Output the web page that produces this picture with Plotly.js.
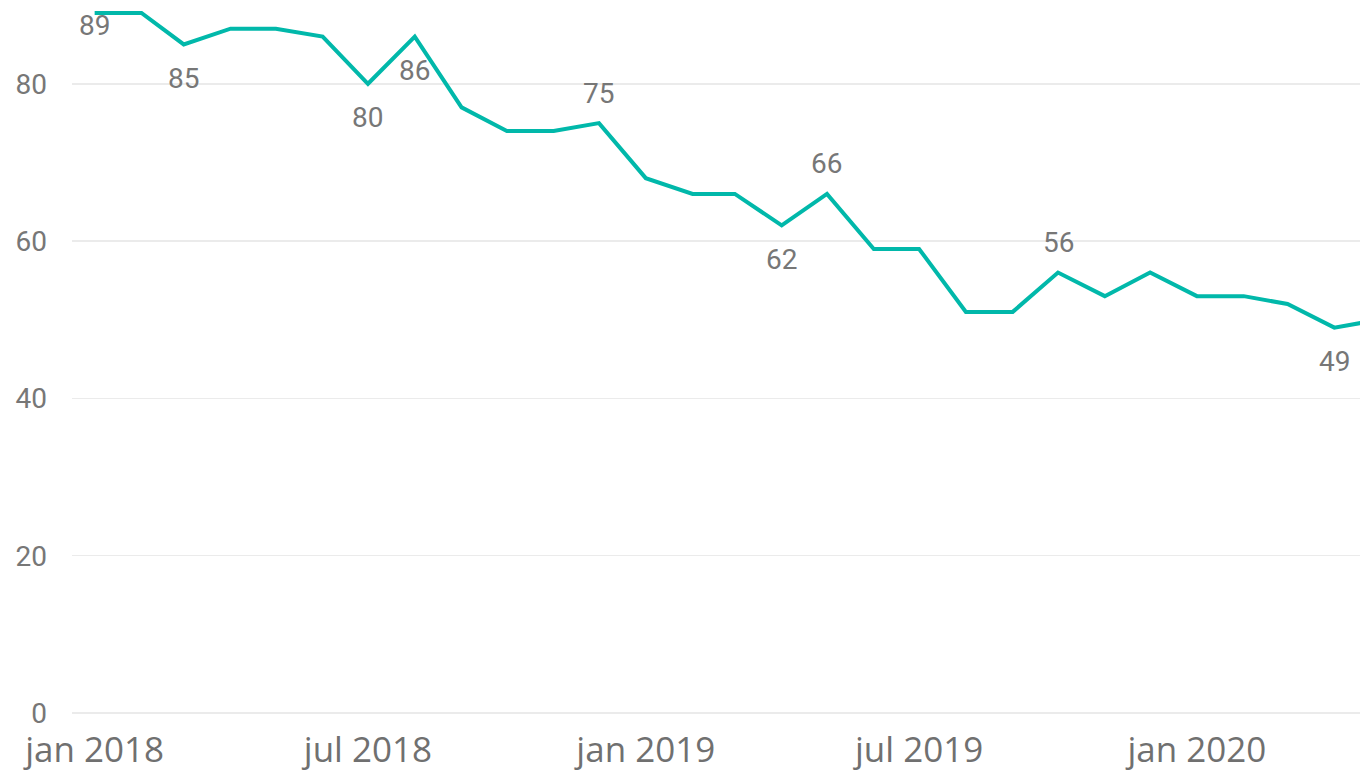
<!DOCTYPE html>
<html>
<head>
<meta charset="utf-8">
<script src="https://cdn.plot.ly/plotly-3.0.1.min.js"></script>
<style>
  html, body { margin: 0; padding: 0; background: #ffffff; }
  #chart { width: 1360px; height: 772px; }
</style>
</head>
<body>
<div id="chart"></div>
<script>
// Monthly dates and values
const months = [
  '2018-01-01','2018-02-01','2018-03-01','2018-04-01','2018-05-01','2018-06-01',
  '2018-07-01','2018-08-01','2018-09-01','2018-10-01','2018-11-01','2018-12-01',
  '2019-01-01','2019-02-01','2019-03-01','2019-04-01','2019-05-01','2019-06-01',
  '2019-07-01','2019-08-01','2019-09-01','2019-10-01','2019-11-01','2019-12-01',
  '2020-01-01','2020-02-01','2020-03-01','2020-04-01','2020-05-01'
];
const values = [
  89, 89, 85, 87, 87, 86,
  80, 86, 77, 74, 74, 75,
  68, 66, 66, 62, 66, 59,
  59, 51, 51, 56, 53, 56,
  53, 53, 52, 49, 50
];

// X tick labels
const tickDates = ['2018-01-01','2018-07-01','2019-01-01','2019-07-01','2020-01-01'];
const tickLabels = ['jan 2018','jul 2018','jan 2019','jul 2019','jan 2020'];

// Indices of points that carry a data label
const labelIdx = [0, 2, 6, 7, 11, 15, 16, 21, 27];

// Placement style for each labelled point (above / below / top-clamped)
const placement = {0: 'clamp', 2: 'below', 6: 'below', 7: 'below', 11: 'above',
                   15: 'below', 16: 'above', 21: 'above', 27: 'below'};
const shiftFor = {clamp: -13, below: -34, above: 30};

const labelFont = {family: 'Roboto, sans-serif', size: 28, color: '#777777'};

const annotations = labelIdx.map(i => ({
  x: months[i],
  y: values[i],
  xref: 'x', yref: 'y',
  text: String(values[i]),
  showarrow: false,
  yshift: shiftFor[placement[i]],
  font: labelFont
}));

const trace = {
  type: 'scatter',
  mode: 'lines',
  x: months,
  y: values,
  line: {color: '#01B8AA', width: 4},
  hoverinfo: 'x+y'
};

const layout = {
  width: 1360,
  height: 772,
  margin: {l: 72, r: 0, t: 0, b: 57, pad: 0},
  paper_bgcolor: '#ffffff',
  plot_bgcolor: '#ffffff',
  showlegend: false,
  xaxis: {
    type: 'date',
    range: ['2017-12-17', '2020-04-18'],
    tickmode: 'array',
    tickvals: tickDates,
    ticktext: tickLabels,
    showgrid: false,
    zeroline: false,
    showline: false,
    ticks: 'outside',
    ticklen: 4,
    tickcolor: 'rgba(0,0,0,0)',
    tickfont: {family: '"Open Sans", sans-serif', size: 35, color: '#707070'}
  },
  yaxis: {
    range: [-0.25, 90.65],
    tickvals: [0, 20, 40, 60, 80],
    showgrid: true,
    gridcolor: '#EBEBEB',
    gridwidth: 1.5,
    zeroline: false,
    showline: false,
    ticks: '',
    ticklabelstandoff: 24,
    tickfont: {family: 'Roboto, sans-serif', size: 28, color: '#777777'}
  },
  annotations: annotations
};

Plotly.newPlot('chart', [trace], layout, {displayModeBar: false, staticPlot: true});
</script>
</body>
</html>
